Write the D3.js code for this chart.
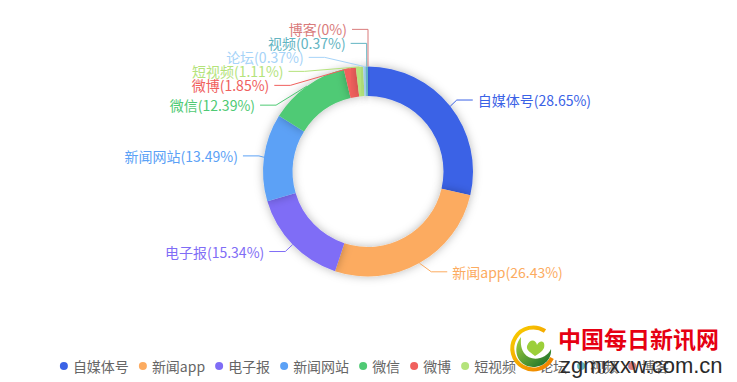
<!DOCTYPE html>
<html><head><meta charset="utf-8">
<script src="https://cdn.jsdelivr.net/npm/d3@7/dist/d3.min.js"></script>
<style>html,body{margin:0;padding:0;background:#fff;} svg{display:block;}</style>
</head><body><svg id="c" width="737" height="382"></svg>
<script>
// ---- data ----
const categories = ["自媒体号","新闻app","电子报","新闻网站","微信","微博","短视频","论坛","视频","博客"];
const values = [28.65, 26.43, 15.34, 13.49, 12.39, 1.85, 1.11, 0.37, 0.37, 0];
const colors = ["#3a62e6","#fcab60","#7f6df6","#5ba1f6","#4fca74","#f0605d","#b4e37b","#a6d3f8","#62b4c2","#d97b7b"];

const W = 737, H = 382;
const cx = 368, cy = 171.5, R = 105, R0 = 75.5;
const LEN = 10, LEN2 = 16, LDIST = 5, TH = 14;
const FONT = "'Microsoft YaHei','Noto Sans CJK SC','Noto Sans',sans-serif";

const svg = d3.select("#c");
const defs = svg.append("defs");
const f = defs.append("filter").attr("id","sh").attr("x","-50%").attr("y","-50%").attr("width","200%").attr("height","200%");
f.append("feDropShadow").attr("dx",0).attr("dy",0).attr("stdDeviation",5)
  .attr("flood-color","#000").attr("flood-opacity",0.28);

const data = categories.map((c,i)=>({name:c, v:values[i], color:colors[i]}));
const pie = d3.pie().sort(null).value(d=>d.v).startAngle(0).endAngle(2*Math.PI);
const arcs = pie(data);
const arcGen = d3.arc().innerRadius(R0).outerRadius(R);

const g = svg.append("g").attr("transform",`translate(${cx},${cy})`);
g.selectAll("path.slice").data(arcs).join("path")
  .attr("class","slice")
  .attr("d", arcGen)
  .attr("fill", d=>d.data.color)
  .attr("filter", d=> d.data.v>0 ? "url(#sh)" : null);

// ---- label layout (pie outer labels with overlap avoidance) ----
const layouts = arcs.map(a=>{
  const mid = (a.startAngle + a.endAngle)/2;
  const dx = Math.sin(mid), dy = -Math.cos(mid);
  const x1 = cx + dx*R, y1 = cy + dy*R;
  const x2 = x1 + dx*LEN, y2 = y1 + dy*LEN;
  const dir = dx < 1e-9 ? -1 : 1;
  const x3 = x2 + dir*LEN2;
  return {d:a.data, x:x3 + dir*LDIST, y:y2, dir, height:TH, len:LEN, len2:LEN2,
          pts:[[x1,y1],[x2,y2],[x3,y2]]};
});

function adjustSingleSide(list, dir){
  list.sort((a,b)=>a.y-b.y);
  function shiftDown(start,end,delta){
    for(let j=start;j<end;j++){
      if(list[j].y+delta>H) break;
      list[j].y += delta;
      if(j>start && j+1<end && list[j+1].y > list[j].y + list[j].height){
        shiftUp(j, delta/2); return;
      }
    }
    shiftUp(end-1, delta/2);
  }
  function shiftUp(end,delta){
    for(let j=end;j>=0;j--){
      if(list[j].y-delta<0) break;
      list[j].y -= delta;
      if(j>0 && list[j].y > list[j-1].y + list[j-1].height) break;
    }
  }
  function changeX(items, isDown){
    let last = isDown ? Number.MAX_VALUE : 0;
    items.forEach(it=>{
      const dy = Math.abs(it.y - cy);
      const rr = R + it.len + it.len2;
      let dxv = dy < R + it.len ? Math.sqrt(rr*rr - dy*dy) : Math.abs(it.x - cx);
      if(isDown && dxv >= last) dxv = last - 10;
      if(!isDown && dxv <= last) dxv = last + 10;
      it.x = cx + dxv*dir;
      last = dxv;
    });
  }
  let lastY = 0;
  for(let i=0;i<list.length;i++){
    const delta = list[i].y - lastY;
    if(delta<0) shiftDown(i, list.length, -delta);
    lastY = list[i].y + list[i].height;
  }
  if(H - lastY < 0) shiftUp(list.length-1, lastY-H);
  changeX(list.filter(l=>l.y<cy), false);
  changeX(list.filter(l=>l.y>=cy), true);
}
const leftL = layouts.filter(l=>l.dir<0), rightL = layouts.filter(l=>l.dir>0);
adjustSingleSide(rightL, 1);
adjustSingleSide(leftL, -1);
layouts.forEach(l=>{
  const p = l.pts;
  const dist = p[1][0] - p[2][0];
  p[2][0] = l.dir < 0 ? l.x + LDIST : l.x - LDIST;
  p[1][0] = p[2][0] + dist;
  p[1][1] = p[2][1] = l.y;
});

const lab = svg.append("g");
lab.selectAll("polyline").data(layouts).join("polyline")
  .attr("points", l=>l.pts.map(p=>p.join(",")).join(" "))
  .attr("fill","none").attr("stroke", l=>l.d.color).attr("stroke-width",1);
lab.selectAll("text").data(layouts).join("text")
  .attr("x", l=>l.x).attr("y", l=>l.y)
  .attr("text-anchor", l=>l.dir<0 ? "end" : "start")
  .attr("dominant-baseline","central")
  .attr("font-family", FONT).attr("font-size",14)
  .attr("fill", l=>l.d.color)
  .text(l=>`${l.d.name}(${l.d.v}%)`);

// ---- legend ----
const leg = svg.append("g");
const ly = 366, iconR = 4, textPad = 5, gap = 10;
const items = leg.selectAll("g").data(data).join("g");
items.append("circle").attr("r",iconR).attr("cy",ly).attr("fill",d=>d.color);
const lt = items.append("text").attr("y",ly).attr("dominant-baseline","central")
  .attr("font-family",FONT).attr("font-size",14).attr("fill","#666").text(d=>d.name);
const widths = [];
lt.each(function(){ widths.push(this.getComputedTextLength()); });
let total = 0;
widths.forEach((w,i)=>{ total += iconR*2 + textPad + w + (i<widths.length-1?gap:0); });
let xPos = (W - total)/2 - 4;
items.each(function(d,i){
  const s = d3.select(this);
  s.select("circle").attr("cx", xPos + iconR);
  s.select("text").attr("x", xPos + iconR*2 + textPad);
  xPos += iconR*2 + textPad + widths[i] + gap;
});

// ---- watermark overlay ----
const wm = svg.append("g");
const lg = defs.append("linearGradient").attr("id","ring").attr("x1","0").attr("y1","0").attr("x2","1").attr("y2","1");
lg.append("stop").attr("offset","0").attr("stop-color","#f9d100");
lg.append("stop").attr("offset","1").attr("stop-color","#ef7d00");
const gg = defs.append("linearGradient").attr("id","grn").attr("x1","0").attr("y1","0").attr("x2","1").attr("y2","1");
gg.append("stop").attr("offset","0").attr("stop-color","#a8d23a");
gg.append("stop").attr("offset","1").attr("stop-color","#0f6a2a");
wm.append("circle").attr("cx",533).attr("cy",349).attr("r",20).attr("fill","#fff").attr("opacity",0.9);
wm.append("path").attr("d","M 545 331 A 21 21 0 1 0 552 358").attr("fill","none").attr("stroke","url(#ring)").attr("stroke-width",4);
wm.append("path").attr("d","M 521 337 C 512 348 516 366 533 367 C 545 367 552 358 551 349 C 546 360 530 362 524 353 C 520 347 521 341 521 337 Z").attr("fill","url(#grn)");
wm.append("path").attr("d","M 527 346 C 530 338 536 340 537 345 C 539 340 546 340 544 348 C 542 352 538 354 535 356 C 532 353 526 351 527 346 Z").attr("fill","#9ccf3a");
wm.append("text").attr("x",558).attr("y",338).attr("dominant-baseline","central")
  .attr("font-family","'Noto Sans CJK SC',sans-serif").attr("font-weight","bold").attr("font-size",23)
  .attr("fill","#e60012").text("中国每日新讯网");
wm.append("text").attr("x",560).attr("y",373)
  .attr("font-family","'Liberation Sans',Arial,sans-serif").attr("font-size",22)
  .attr("fill","#2a2a2a").text("zgmrxxw.com.cn");
</script>
</body></html>
